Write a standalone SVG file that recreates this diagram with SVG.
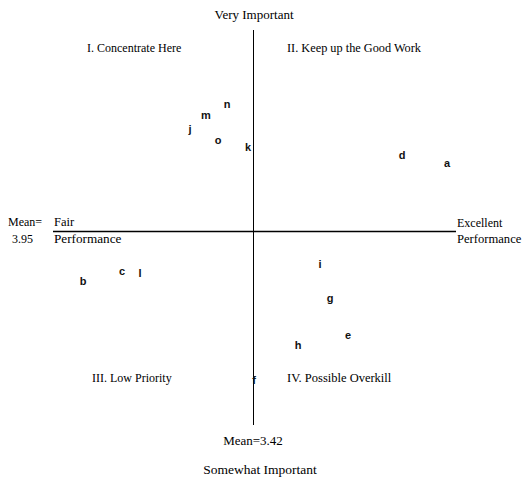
<svg xmlns="http://www.w3.org/2000/svg" width="522" height="478" viewBox="0 0 522 478">
<style>
.t{font-family:"Liberation Serif","Times New Roman",serif;fill:#000;}
.p{font-family:"Liberation Sans",Arial,sans-serif;font-size:11px;font-weight:bold;fill:#111;text-anchor:middle;}
.ax{stroke:#000;fill:none;}
</style>
<rect width="522" height="478" fill="#fff"/>
<g id="axes">
<line class="ax" x1="253.5" y1="30" x2="253.5" y2="425" stroke-width="1"/>
<line class="ax" x1="53" y1="231.5" x2="456" y2="231.5" stroke-width="1.3"/>
</g>
<g id="axis-labels">
<text class="t" x="254" y="19" font-size="13" text-anchor="middle">Very Important</text>
<text class="t" x="260" y="474" font-size="13.5" text-anchor="middle">Somewhat Important</text>
<text class="t" x="253" y="445" font-size="13" text-anchor="middle">Mean=3.42</text>
<text class="t" x="8" y="226" font-size="12">Mean=</text>
<text class="t" x="12" y="243" font-size="12">3.95</text>
<text class="t" x="54" y="226" font-size="12.5">Fair</text>
<text class="t" x="54" y="243" font-size="13.2">Performance</text>
<text class="t" x="457" y="227" font-size="12">Excellent</text>
<text class="t" x="457" y="243" font-size="12.6">Performance</text>
</g>
<g id="quadrants">
<text class="t" x="87" y="52" font-size="12">I. Concentrate Here</text>
<text class="t" x="287" y="52" font-size="12.3">II. Keep up the Good Work</text>
<text class="t" x="92" y="382" font-size="12">III. Low Priority</text>
<text class="t" x="287" y="382" font-size="12.5">IV. Possible Overkill</text>
</g>
<g id="point-a"><text class="p" x="447" y="167">a</text></g>
<g id="point-b"><text class="p" x="83" y="285">b</text></g>
<g id="point-c"><text class="p" x="122" y="275">c</text></g>
<g id="point-d"><text class="p" x="402" y="159">d</text></g>
<g id="point-e"><text class="p" x="348" y="339">e</text></g>
<g id="point-f"><text class="p" x="254" y="384">f</text></g>
<g id="point-g"><text class="p" x="330" y="302">g</text></g>
<g id="point-h"><text class="p" x="298" y="349">h</text></g>
<g id="point-i"><text class="p" x="320" y="268">i</text></g>
<g id="point-j"><text class="p" x="190" y="133">j</text></g>
<g id="point-k"><text class="p" x="248" y="151">k</text></g>
<g id="point-l"><text class="p" x="140" y="277">l</text></g>
<g id="point-m"><text class="p" x="206" y="119">m</text></g>
<g id="point-n"><text class="p" x="227" y="108">n</text></g>
<g id="point-o"><text class="p" x="218" y="144">o</text></g>
</svg>
